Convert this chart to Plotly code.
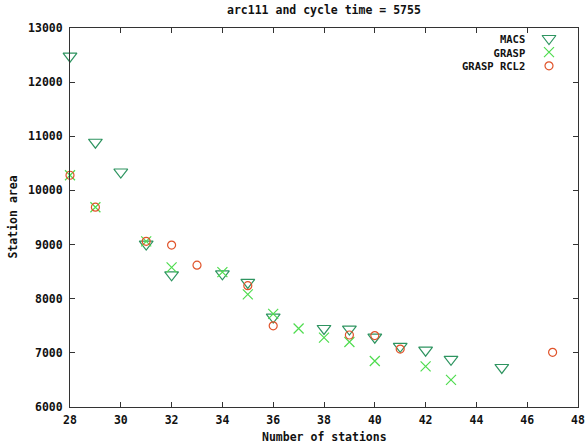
import plotly.graph_objects as go

# ---- data ----
macs_x = [28, 29, 30, 31, 32, 34, 35, 36, 38, 39, 40, 41, 42, 43, 45]
macs_y = [12480, 10890, 10340, 9010, 8440, 8460, 8300, 7660, 7450, 7440, 7290, 7120, 7050, 6880, 6730]

grasp_x = [28, 29, 31, 32, 34, 35, 36, 37, 38, 39, 40, 42, 43]
grasp_y = [10280, 9690, 9060, 8580, 8490, 8080, 7720, 7450, 7280, 7200, 6850, 6750, 6500]

rcl2_x = [28, 29, 31, 32, 33, 35, 36, 39, 40, 41, 47]
rcl2_y = [10280, 9690, 9060, 8990, 8620, 8240, 7500, 7330, 7320, 7070, 7010]

series_names = ["MACS", "GRASP", "GRASP RCL2"]
x_ticks = [28, 30, 32, 34, 36, 38, 40, 42, 44, 46, 48]
y_ticks = [6000, 7000, 8000, 9000, 10000, 11000, 12000, 13000]

# ---- style ----
C_MACS = "#2e9460"
C_GRASP = "#4fdc4f"
C_RCL2 = "#e0532a"
FONT = dict(family="DejaVu Sans Mono", size=11.5, color="#111111", weight="bold")

W, H = 587, 446
L, R, T, B = 70, 9, 28, 39
plot_w = W - L - R
plot_h = H - T - B


def px_to_paper_x(px):
    return (px - L) / plot_w


def px_to_paper_y(py):
    return (H - B - py) / plot_h


styles = [
    dict(symbol="triangle-down-open", size=12, color=C_MACS),
    dict(symbol="x-thin-open", size=10, color=C_GRASP),
    dict(symbol="circle-open", size=8, color=C_RCL2),
]

fig = go.Figure()
for (xs, ys), st, name in zip([(macs_x, macs_y), (grasp_x, grasp_y), (rcl2_x, rcl2_y)], styles, series_names):
    fig.add_trace(go.Scatter(
        x=xs, y=ys, mode="markers", name=name, showlegend=False, cliponaxis=False,
        marker=dict(symbol=st["symbol"], size=st["size"], color=st["color"],
                    line=dict(color=st["color"], width=1.2)),
    ))

# ---- custom legend (key on the right of the text, gnuplot style) ----
LEG_FONT = dict(FONT, size=10.5)
line_h = 1.3 * LEG_FONT["size"]
first_row = 38.5
key_x = px_to_paper_x(549)
key_rows = [px_to_paper_y(first_row + i * line_h) for i in range(3)]
for st, ky in zip(styles, key_rows):
    fig.add_trace(go.Scatter(
        x=[key_x], y=[ky], xaxis="x2", yaxis="y2", mode="markers", showlegend=False,
        hoverinfo="skip", cliponaxis=False,
        marker=dict(symbol=st["symbol"], size=st["size"], color=st["color"],
                    line=dict(color=st["color"], width=1.2)),
    ))
fig.add_annotation(x=px_to_paper_x(526), y=px_to_paper_y(first_row - line_h / 2),
                   xref="paper", yref="paper", text="<br>".join(series_names),
                   showarrow=False, xanchor="right", yanchor="top", align="right",
                   font=LEG_FONT, borderpad=0)

# ---- titles as annotations for exact placement ----
fig.add_annotation(x=0.5, y=px_to_paper_y(10), xref="paper", yref="paper",
                   text="arc111 and cycle time = 5755", showarrow=False,
                   xanchor="center", yanchor="middle", font=FONT)
fig.add_annotation(x=0.5, y=px_to_paper_y(437), xref="paper", yref="paper",
                   text="Number of stations", showarrow=False,
                   xanchor="center", yanchor="middle", font=FONT)
fig.add_annotation(x=px_to_paper_x(12), y=0.5, xref="paper", yref="paper",
                   text="Station area", showarrow=False, textangle=-90,
                   xanchor="center", yanchor="middle", font=FONT)

axis_common = dict(
    showgrid=False, zeroline=False, showline=True, linecolor="#333333", linewidth=1,
    mirror="ticks", ticks="inside", ticklen=5, tickcolor="#333333", tickwidth=1,
    tickfont=FONT, automargin=False,
)

fig.update_layout(
    width=W, height=H,
    margin=dict(l=L, r=R, t=T, b=B, pad=0, autoexpand=False),
    paper_bgcolor="white", plot_bgcolor="white",
    xaxis=dict(range=[28, 48], tickvals=x_ticks, ticktext=[str(v) for v in x_ticks],
               ticklabelstandoff=2, **axis_common),
    yaxis=dict(range=[6000, 13000], tickvals=y_ticks, ticktext=[str(v) for v in y_ticks],
               ticklabelstandoff=4, **axis_common),
    xaxis2=dict(range=[0, 1], overlaying="x", visible=False, fixedrange=True),
    yaxis2=dict(range=[0, 1], overlaying="y", visible=False, fixedrange=True),
    showlegend=False,
)

# remove the browser's default 8px body margin so the figure fills the window
fig.write_html("out.html",
               config={"displayModeBar": False},
               post_script="document.body.style.margin='0';document.body.style.overflow='hidden';")
